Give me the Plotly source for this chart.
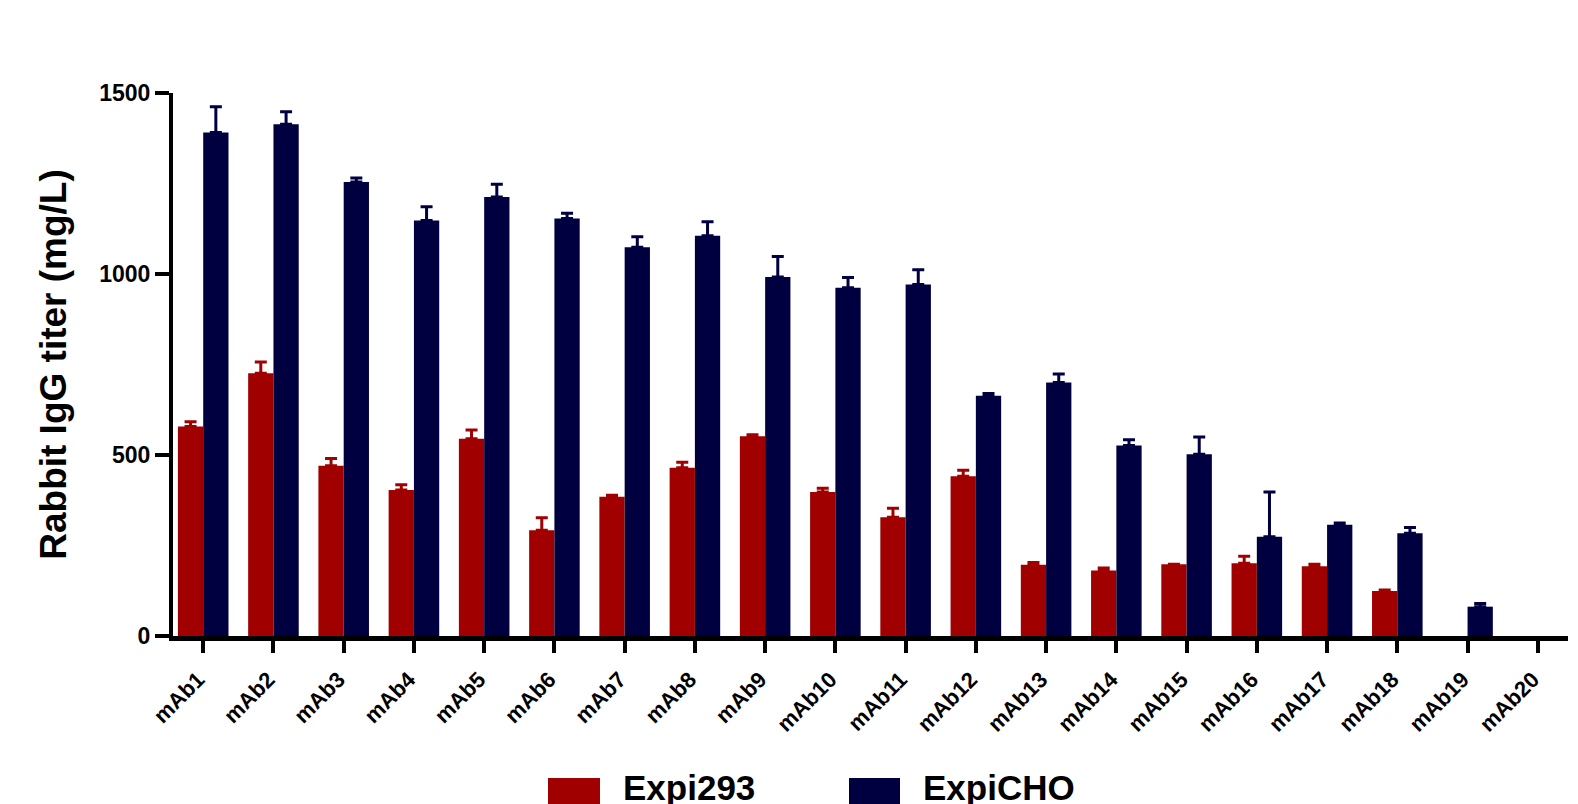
import plotly.graph_objects as go

categories = [f"mAb{i}" for i in range(1, 21)]

expi293 = [579, 726, 470, 403, 545, 292, 385, 465, 552, 398,
           328, 441, 197, 181, 198, 201, 193, 124, None, None]
expi293_err = [13, 31, 20, 15, 24, 35, 4, 15, 4, 10,
               25, 17, 6, 7, 0, 19, 5, 3, None, None]

expicho = [1391, 1414, 1254, 1148, 1213, 1153, 1074, 1106, 992, 962,
           971, 664, 700, 526, 502, 274, 307, 284, 81, None]
expicho_err = [71, 34, 11, 38, 35, 15, 29, 38, 56, 28,
               41, 6, 24, 16, 48, 124, 5, 16, 9, None]

series_names = ["Expi293", "ExpiCHO"]
RED = "#a00000"
NAVY = "#000040"

FONT = "Liberation Sans, Arial, sans-serif"

fig = go.Figure()
fig.add_trace(go.Bar(
    x=categories, y=expi293, name=series_names[0],
    marker=dict(color=RED, line=dict(width=0)),
    error_y=dict(type="data", array=expi293_err, symmetric=False, arrayminus=[0]*20,
                 color=RED, thickness=3, width=6),
    showlegend=False,
))
fig.add_trace(go.Bar(
    x=categories, y=expicho, name=series_names[1],
    marker=dict(color=NAVY, line=dict(width=0)),
    error_y=dict(type="data", array=expicho_err, symmetric=False, arrayminus=[0]*20,
                 color=NAVY, thickness=3, width=6),
    showlegend=False,
))

OFF = 8  # page body margin
L, R, T, B = 165, 18, 85, 176
W, H = 1578, 804
pw = W - L - R
ph = H - T - B

def px(x):
    return (x - OFF - L) / pw

def py(y):
    return (H - B - (y - OFF)) / ph

# manual legend (large swatches like the reference)
legend_items = [(series_names[0], RED, 548, 600, 621), (series_names[1], NAVY, 849, 900, 921)]
for name, col, x0, x1, tx in legend_items:
    fig.add_shape(type="rect", xref="paper", yref="paper",
                  x0=px(x0), x1=px(x1), y0=py(778), y1=py(830),
                  fillcolor=col, line=dict(width=0), layer="above")
    fig.add_annotation(xref="paper", yref="paper", x=px(tx), y=py(787),
                       xanchor="left", yanchor="middle", showarrow=False,
                       text=name, font=dict(family=FONT, size=35, color="black", weight="bold"))

fig.update_layout(
    width=W, height=H,
    margin=dict(l=L, r=R, t=T, b=B, pad=0, autoexpand=False),
    paper_bgcolor="white", plot_bgcolor="white",
    barmode="group", bargap=0.28, bargroupgap=0,
    font=dict(family=FONT, color="black", weight="bold"),
    xaxis=dict(
        range=[-0.43, 19.43], automargin=False,
        showline=True, linecolor="black", linewidth=5,
        ticks="outside", ticklen=12, tickwidth=4, tickcolor="black",
        tickangle=-45, tickfont=dict(family=FONT, size=22, weight="bold"),
        ticklabelstandoff=5, ticklabelshift=-5,
        showgrid=False, zeroline=False,
    ),
    yaxis=dict(
        range=[0, 1500], automargin=False,
        tickvals=[0, 500, 1000, 1500],
        showline=True, linecolor="black", linewidth=4,
        ticks="outside", ticklen=14, tickwidth=4, tickcolor="black",
        tickfont=dict(family=FONT, size=23, weight="bold"),
        showgrid=False, zeroline=False,
        title=dict(text="Rabbit IgG titer (mg/L)", standoff=22,
                   font=dict(family=FONT, size=37, weight="bold")),
    ),
)

fig.write_html("out.html")
